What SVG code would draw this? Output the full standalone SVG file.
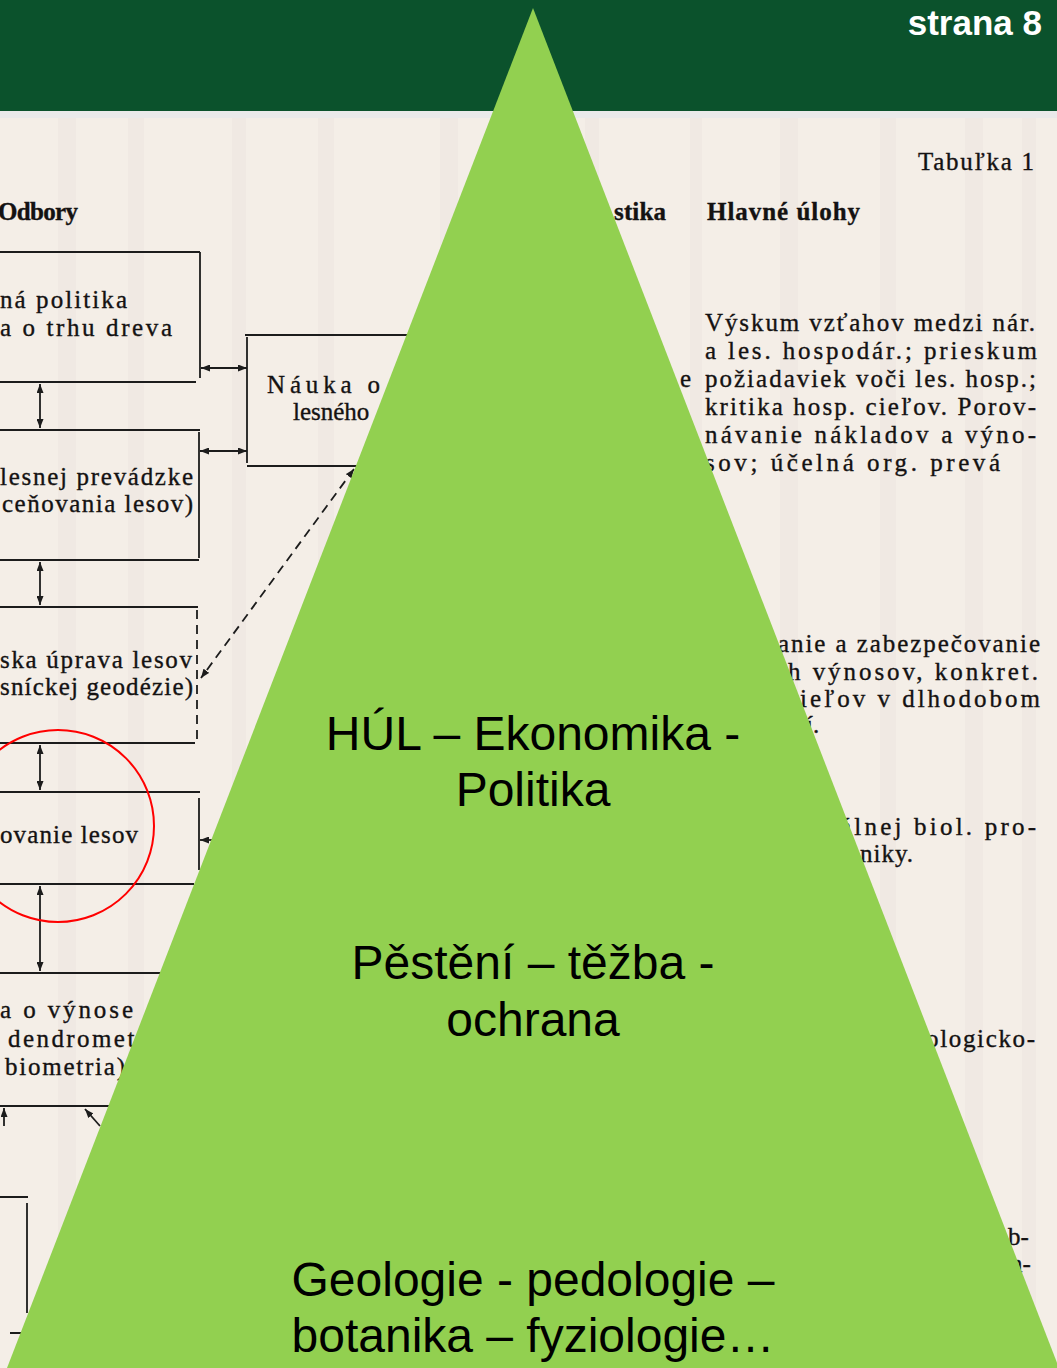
<svg xmlns="http://www.w3.org/2000/svg" width="1057" height="1368" viewBox="0 0 1057 1368">
<defs>
<style>
.scan{font-family:"Liberation Serif","DejaVu Serif",serif;font-size:25px;fill:#141212;stroke:#141212;stroke-width:0.35}
.b{font-weight:bold}
.ln{stroke:#1c1c1c;stroke-width:1.8;fill:none}
.dash{stroke:#1c1c1c;stroke-width:1.8;fill:none;stroke-dasharray:9 6}
.tri{font-family:"Liberation Sans",Arial,sans-serif;font-size:48px;fill:#000;text-anchor:middle}
.stripe{fill:#cdbcb8;opacity:0.09}
</style>
<marker id="ah" viewBox="0 0 9 7" refX="9" refY="3.5" markerWidth="9" markerHeight="7" markerUnits="userSpaceOnUse" orient="auto-start-reverse">
<path d="M0,0 L9,3.5 L0,7 z" fill="#1c1c1c"/>
</marker>
</defs>

<!-- scanned page background -->
<rect x="0" y="0" width="1057" height="1368" fill="#F4EEE7"/>
<g id="stripes">
<rect class="stripe" x="58" y="118" width="18" height="1250"/>
<rect class="stripe" x="128" y="118" width="16" height="1250"/>
<rect class="stripe" x="232" y="118" width="14" height="1250"/>
<rect class="stripe" x="318" y="118" width="16" height="1250"/>
<rect class="stripe" x="440" y="118" width="18" height="1250"/>
<rect class="stripe" x="585" y="118" width="14" height="1250"/>
<rect class="stripe" x="690" y="118" width="12" height="1250"/>
<rect class="stripe" x="780" y="118" width="18" height="1250"/>
<rect class="stripe" x="880" y="118" width="16" height="1250"/>
<rect class="stripe" x="965" y="118" width="18" height="1250"/>
<rect class="stripe" x="1022" y="118" width="14" height="1250"/>
</g>

<!-- header -->
<g id="header">
<rect x="0" y="0" width="1057" height="111" fill="#0B522C"/>
<rect x="0" y="111" width="1057" height="7" fill="#EAEAEA"/>
<text x="1042" y="35" text-anchor="end" font-family="'Liberation Sans',Arial,sans-serif" font-weight="bold" font-size="35" fill="#FFFFFF">strana 8</text>
</g>

<!-- left column: Odbory -->
<g id="col-odbory">
<text class="scan b" x="-2" y="220" textLength="80">Odbory</text>
</g>
<g id="box-politika">
<path class="ln" d="M0,252 H200 M200,252 V378 M0,382 H196"/>
<text class="scan" x="0" y="308" textLength="127">ná politika</text>
<text class="scan" x="0" y="336" textLength="172">a o trhu dreva</text>
</g>
<g id="box-prevadzka">
<path class="ln" d="M0,430 H200 M199,432 V558 M0,560 H199"/>
<text class="scan" x="0" y="485" textLength="193">lesnej prevádzke</text>
<text class="scan" x="2" y="512" textLength="191">ceňovania lesov)</text>
</g>
<g id="box-uprava">
<path class="ln" d="M0,607 H198 M0,743 H195"/>
<path class="dash" d="M197,610 V740" stroke-dasharray="14 4"/>
<text class="scan" x="0" y="668" textLength="192">ska úprava lesov</text>
<text class="scan" x="0" y="695" textLength="193">sníckej geodézie)</text>
</g>
<g id="box-pestovanie">
<path class="ln" d="M0,792 H200 M199,798 V870 M0,884 H194"/>
<text class="scan" x="0" y="843" textLength="138">ovanie lesov</text>
</g>
<g id="box-vynos">
<path class="ln" d="M0,973 H162"/>
<text class="scan" x="0" y="1018" textLength="133">a o výnose</text>
<text class="scan" x="8" y="1047" textLength="160">dendrometria</text>
<text class="scan" x="5" y="1075" textLength="120">biometria)</text>
</g>
<g id="box-bottom">
<path class="ln" d="M0,1106 H110 M0,1197 H28 M27,1203 V1313 M10,1333 H26"/>
</g>
<g id="box-nauka">
<path class="ln" d="M245,335 H412 M247,337 V463 M247,466 H360"/>
<text class="scan" x="267" y="393" textLength="113">Náuka o</text>
<text class="scan" x="293" y="420">lesného</text>
</g>

<!-- connectors -->
<g id="connectors">
<path class="ln" d="M201,368 H247" marker-start="url(#ah)" marker-end="url(#ah)"/>
<path class="ln" d="M200,451 H247" marker-start="url(#ah)" marker-end="url(#ah)"/>
<path class="ln" d="M40,384 V428" marker-start="url(#ah)" marker-end="url(#ah)"/>
<path class="ln" d="M40,562 V605" marker-start="url(#ah)" marker-end="url(#ah)"/>
<path class="ln" d="M40,745 V790" marker-start="url(#ah)" marker-end="url(#ah)"/>
<path class="ln" d="M40,886 V971" marker-start="url(#ah)" marker-end="url(#ah)"/>
<path class="dash" d="M354,469 L201,678" marker-start="url(#ah)" marker-end="url(#ah)"/>
<path class="ln" d="M214,840 H200" marker-end="url(#ah)"/>
<path class="ln" d="M4,1126 V1108" marker-end="url(#ah)"/>
<path class="ln" d="M100,1126 L85,1109" marker-end="url(#ah)"/>
</g>

<!-- red highlight circle -->
<circle id="highlight" cx="58" cy="826" r="96" fill="none" stroke="#FF0000" stroke-width="2"/>

<!-- right column -->
<g id="col-header-right">
<text class="scan" x="918" y="170" font-size="21" textLength="116">Tabuľka 1</text>
<text class="scan b" x="614" y="220" textLength="52">stika</text>
<text class="scan b" x="707" y="220" textLength="153">Hlavné úlohy</text>
</g>
<g id="uloha-1">
<text class="scan" x="680" y="387">e</text>
<text class="scan" x="705" y="331" textLength="330">Výskum vzťahov medzi nár.</text>
<text class="scan" x="705" y="359" textLength="332">a les. hospodár.; prieskum</text>
<text class="scan" x="705" y="387" textLength="331">požiadaviek voči les. hosp.;</text>
<text class="scan" x="705" y="415" textLength="331">kritika hosp. cieľov. Porov-</text>
<text class="scan" x="705" y="443" textLength="331">návanie nákladov a výno-</text>
<text class="scan" x="705" y="471" textLength="295">sov; účelná org. prevá</text>
</g>
<g id="uloha-2">
<text class="scan" x="778" y="652" textLength="262">anie a zabezpečovanie</text>
<text class="scan" x="788" y="680" textLength="250">h  výnosov, konkret.</text>
<text class="scan" x="800" y="707" textLength="240">ieľov v dlhodobom</text>
<text class="scan" x="806" y="733">í.</text>
</g>
<g id="uloha-3">
<text class="scan" x="840" y="835" textLength="196">álnej biol. pro-</text>
<text class="scan" x="860" y="862" textLength="53">niky.</text>
</g>
<g id="uloha-4">
<text class="scan" x="926" y="1047" textLength="109">ologicko-</text>
<text class="scan" x="1008" y="1245">b-</text>
<text class="scan" x="1010" y="1272">n-</text>
</g>

<!-- pyramid -->
<g id="pyramid">
<polygon points="533,8 7,1368 1059,1368" fill="#92D050"/>
</g>
<g id="level-top">
<text class="tri" x="533" y="750">HÚL – Ekonomika -</text>
<text class="tri" x="533" y="806">Politika</text>
</g>
<g id="level-middle">
<text class="tri" x="533" y="979">Pěstění – těžba -</text>
<text class="tri" x="533" y="1036">ochrana</text>
</g>
<g id="level-bottom">
<text class="tri" x="533" y="1296">Geologie - pedologie –</text>
<text class="tri" x="533" y="1352">botanika – fyziologie…</text>
</g>
</svg>
